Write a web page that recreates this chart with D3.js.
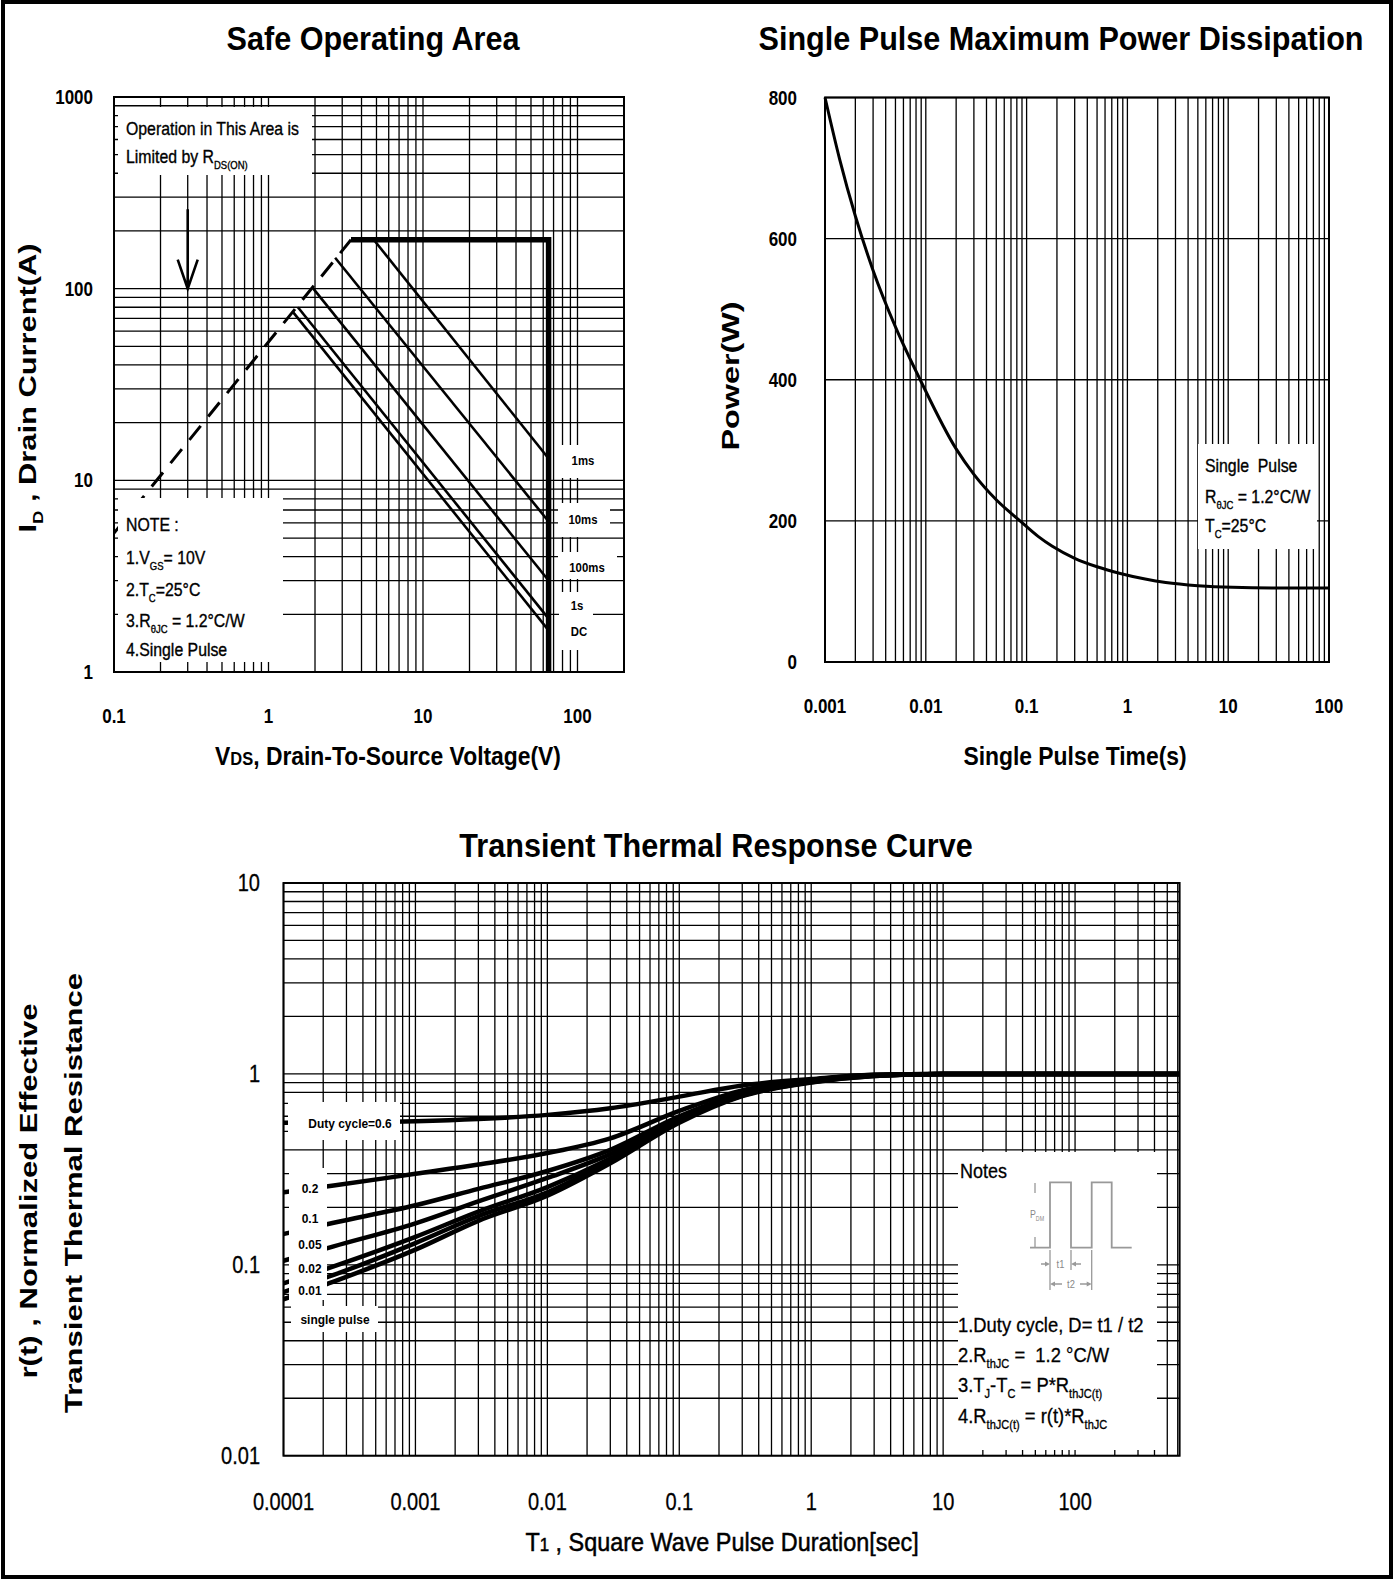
<!DOCTYPE html>
<html>
<head>
<meta charset="utf-8">
<script src="https://cdn.jsdelivr.net/npm/d3@7"></script>
<style>
  body { margin: 0; background: #fff; }
</style>
</head>
<body>
<svg id="chart" width="1394" height="1580"></svg>
<script>
// ---- Safe Operating Area data ----
var soaXTicks = [0.1, 1, 10, 100];
var soaYTicks = [1, 10, 100, 1000];
var soaXTickLabels = ['0.1', '1', '10', '100'];
var soaYTickLabels = ['1', '10', '100', '1000'];
var rdsLimitV = [0.1, 3.42];          // R_DS(ON) limit (dashed)
var rdsLimitI = [5.3, 180];
var boundV = [3.42, 65, 65];          // current limit + voltage limit (thick)
var boundI = [180, 180, 1];
var pulseNames = ['1ms', '10ms', '100ms', '1s', 'DC'];
var pulseStartV = [4.8, 2.7, 1.95, 1.55, 1.45];
var pulseStartI = [180, 145, 100, 80, 75];
var pulseEndV = [65, 65, 65, 65, 65];
var pulseEndI = [13, 6.1, 3.0, 1.9, 1.65];
var arrowV = 0.3;
var arrowI = [260, 100];

// ---- Single pulse power data ----
var spXTicks = [0.001, 0.01, 0.1, 1, 10, 100];
var spXTickLabels = ['0.001', '0.01', '0.1', '1', '10', '100'];
var spYTicks = [0, 200, 400, 600, 800];
var spTime = [0.001, 0.0014, 0.002, 0.003, 0.005, 0.0088, 0.02, 0.03, 0.05, 0.086, 0.13, 0.18, 0.3, 0.5, 0.85, 1.5, 2.4, 5, 11, 30, 100];
var spPower = [800, 712, 632, 555, 475, 400, 302, 266, 230, 200, 178, 164, 147, 135, 125.5, 117.6, 112.7, 108.2, 105.8, 105, 105];

// ---- Transient thermal response data ----
var ttXTicks = [0.0001, 0.001, 0.01, 0.1, 1, 10, 100];
var ttXTickLabels = ['0.0001', '0.001', '0.01', '0.1', '1', '10', '100'];
var ttYTicks = [0.01, 0.1, 1, 10];
var ttYTickLabels = ['0.01', '0.1', '1', '10'];
var ttTime = [0.0001, 0.00024, 0.001, 0.003, 0.01, 0.03, 0.1, 0.3, 1, 3, 10, 100, 620];
var ttNames = ['Duty cycle=0.6', '0.2', '0.1', '0.05', '0.02', '0.01', 'single pulse'];
var ttD06 = [0.555, 0.558, 0.565, 0.58, 0.61, 0.66, 0.76, 0.87, 0.94, 0.99, 1.0, 1.0, 1.0];
var ttD02 = [0.24, 0.26, 0.30, 0.335, 0.385, 0.46, 0.64, 0.82, 0.93, 0.99, 1.0, 1.0, 1.0];
var ttD01 = [0.145, 0.166, 0.205, 0.25, 0.31, 0.40, 0.60, 0.79, 0.92, 0.985, 1.0, 1.0, 1.0];
var ttD005 = [0.105, 0.125, 0.165, 0.215, 0.285, 0.38, 0.585, 0.78, 0.915, 0.98, 1.0, 1.0, 1.0];
var ttD002 = [0.08, 0.098, 0.14, 0.19, 0.255, 0.36, 0.57, 0.775, 0.91, 0.98, 1.0, 1.0, 1.0];
var ttD001 = [0.072, 0.0885, 0.13, 0.18, 0.24, 0.35, 0.565, 0.77, 0.905, 0.975, 1.0, 1.0, 1.0];
var ttSingle = [0.066, 0.0817, 0.12, 0.17, 0.23, 0.34, 0.555, 0.765, 0.9, 0.975, 1.0, 1.0, 1.0];
var ttSeries = [ttD06, ttD02, ttD01, ttD005, ttD002, ttD001, ttSingle];

var FONT = "'Liberation Sans', Arial, sans-serif";
var svg = d3.select('#chart');

svg.append('rect').attr('width', 1394).attr('height', 1580).attr('fill', '#fff');
svg.append('rect')
    .attr('x', 3).attr('y', 2).attr('width', 1388).attr('height', 1575)
    .attr('fill', 'none').attr('stroke', '#000').attr('stroke-width', 4);

// text helper: parts are strings or [text, 'sub'|'sm']
function addText(parent, x, y, parts, o) {
    var size = o.size;
    var tf = 'translate(' + x + ',' + y + ')';
    if (o.rotate) tf += ' rotate(' + o.rotate + ')';
    if (o.sx && o.sx !== 1) tf += ' scale(' + o.sx + ',1)';
    tf += ' translate(0,' + (size * 0.35).toFixed(2) + ')';
    var t = parent.append('text')
        .attr('transform', tf)
        .attr('font-family', FONT)
        .attr('font-size', size)
        .attr('font-weight', o.bold ? 'bold' : 'normal')
        .attr('text-anchor', o.anchor || 'start')
        .attr('fill', o.fill || '#000');
    if (o.stroke) t.attr('stroke', o.fill || '#000').attr('stroke-width', o.stroke);
    if (o.len) t.attr('textLength', o.len).attr('lengthAdjust', o.adjust || 'spacingAndGlyphs');
    var shift = 0;
    (typeof parts === 'string' ? [parts] : parts).forEach(function (p) {
        var s = typeof p === 'string' ? p : p[0];
        var kind = typeof p === 'string' ? null : p[1];
        var d = kind === 'sub' ? size * 0.3 : 0;
        var ts = t.append('tspan').text(s);
        if (d - shift !== 0) ts.attr('dy', d - shift);
        if (kind) ts.attr('font-size', size * (kind === 'sub' ? 0.6 : 0.72));
        shift = d;
    });
    return t;
}

function whiteBox(parent, x0, y0, x1, y1) {
    parent.append('rect')
        .attr('x', x0).attr('y', y0).attr('width', x1 - x0).attr('height', y1 - y0)
        .attr('fill', '#fff');
}

function drawGrid(parent, xs, ys, xVals, yVals) {
    var g = parent.append('g').attr('stroke', '#000').attr('stroke-width', 1.3);
    var xr = xs.range(), yr = ys.range();
    g.selectAll('line.v').data(xVals).join('line').attr('class', 'v')
        .attr('x1', function (d) { return xs(d); }).attr('x2', function (d) { return xs(d); })
        .attr('y1', yr[0]).attr('y2', yr[1]);
    g.selectAll('line.h').data(yVals).join('line').attr('class', 'h')
        .attr('x1', xr[0]).attr('x2', xr[1])
        .attr('y1', function (d) { return ys(d); }).attr('y2', function (d) { return ys(d); });
}

function drawFrame(parent, xs, ys) {
    var xr = xs.range(), yr = ys.range();
    parent.append('rect')
        .attr('x', xr[0]).attr('y', yr[1])
        .attr('width', xr[1] - xr[0]).attr('height', yr[0] - yr[1])
        .attr('fill', 'none').attr('stroke', '#000').attr('stroke-width', 2);
}

var titleStyle = { size: 34, bold: true, sx: 0.9, anchor: 'middle' };
var annot = { size: 18, sx: 0.88, stroke: 0.35 };
var tickStyle = { size: 20, bold: true, sx: 0.85 };

// ================= Safe Operating Area =================
var soa = svg.append('g');
var soaX = d3.scaleLog().domain([0.1, 200]).range([114, 624]);
var soaY = d3.scaleLog().domain([1, 1000]).range([672, 97]);
drawGrid(soa, soaX, soaY, soaX.ticks(), soaY.ticks());

var soaLine = d3.line().x(function (d) { return soaX(d[0]); }).y(function (d) { return soaY(d[1]); });

soa.append('path')
    .attr('d', soaLine(d3.zip(rdsLimitV, rdsLimitI)))
    .attr('fill', 'none').attr('stroke', '#000').attr('stroke-width', 3)
    .attr('stroke-dasharray', '18,12');

soa.selectAll('path.pulse').data(pulseNames).join('path').attr('class', 'pulse')
    .attr('d', function (d, i) {
        return soaLine([[pulseStartV[i], pulseStartI[i]], [pulseEndV[i], pulseEndI[i]]]);
    })
    .attr('fill', 'none').attr('stroke', '#000').attr('stroke-width', 2.6);

soa.append('path')
    .attr('d', soaLine(d3.zip(boundV, boundI)))
    .attr('fill', 'none').attr('stroke', '#000').attr('stroke-width', 5.5)
    .attr('stroke-linejoin', 'miter');

// arrow pointing at the R_DS(ON) limit
var ax = soaX(arrowV), ayTop = soaY(arrowI[0]), ayTip = soaY(arrowI[1]);
soa.append('path')
    .attr('d', 'M' + ax + ',' + ayTop + 'L' + ax + ',' + ayTip +
        'M' + (ax - 10) + ',' + (ayTip - 29) + 'L' + ax + ',' + ayTip + 'L' + (ax + 10) + ',' + (ayTip - 29))
    .attr('fill', 'none').attr('stroke', '#000').attr('stroke-width', 2.6);

// annotation boxes
whiteBox(soa, 118, 107, 312, 175);
whiteBox(soa, 118, 498, 283, 662);
whiteBox(soa, 556, 445, 623, 478);
whiteBox(soa, 558, 503, 610, 537);
whiteBox(soa, 558, 552, 617, 579);
whiteBox(soa, 559, 592, 593, 650);

addText(soa, 126, 129, 'Operation in This Area is', annot);
addText(soa, 126, 157, ['Limited by R', ['DS(ON)', 'sub']], annot);
addText(soa, 126, 525, 'NOTE :', annot);
addText(soa, 126, 558, ['1.V', ['GS', 'sub'], '= 10V'], annot);
addText(soa, 126, 590, ['2.T', ['C', 'sub'], '=25°C'], annot);
addText(soa, 126, 621, ['3.R', ['θJC', 'sub'], ' = 1.2°C/W'], annot);
addText(soa, 126, 650, '4.Single Pulse', annot);

var pulseLabelPos = [[583, 461], [583, 520], [587, 568], [577, 606], [579, 632]];
pulseNames.forEach(function (n, i) {
    addText(soa, pulseLabelPos[i][0], pulseLabelPos[i][1], n, { size: 12, bold: true, sx: 0.95, anchor: 'middle' });
});

drawFrame(soa, soaX, soaY);

soaYTicks.forEach(function (v, i) {
    addText(soa, 93, soaY(v), soaYTickLabels[i], Object.assign({ anchor: 'end' }, tickStyle));
});
soaXTicks.forEach(function (v, i) {
    addText(soa, soaX(v), 716, soaXTickLabels[i], Object.assign({ anchor: 'middle' }, tickStyle));
});
addText(soa, 373, 38, 'Safe Operating Area', titleStyle);
addText(soa, 388, 756, ['V', ['DS', 'sm'], ', Drain-To-Source Voltage(V)'], { size: 26, bold: true, anchor: 'middle', sx: 0.88 });
addText(soa, 28, 388, ['I', ['D', 'sub'], ' , Drain Current(A)'], { size: 23, bold: true, anchor: 'middle', rotate: -90, len: 289 });

// ================= Single Pulse Maximum Power =================
var sp = svg.append('g');
var spX = d3.scaleLog().domain([0.001, 100]).range([825, 1329]);
var spY = d3.scaleLinear().domain([0, 800]).range([662, 97.5]);
drawGrid(sp, spX, spY, spX.ticks(), spYTicks);
whiteBox(sp, 1198, 444, 1317, 549);

sp.append('path')
    .attr('d', d3.line()
        .x(function (d) { return spX(d[0]); })
        .y(function (d) { return spY(d[1]); })
        .curve(d3.curveMonotoneX)(d3.zip(spTime, spPower)))
    .attr('fill', 'none').attr('stroke', '#000').attr('stroke-width', 3);

addText(sp, 1205, 466, 'Single\u00A0\u00A0Pulse', annot);
addText(sp, 1205, 497, ['R', ['θJC', 'sub'], ' = 1.2°C/W'], annot);
addText(sp, 1205, 526, ['T', ['C', 'sub'], '=25°C'], annot);

drawFrame(sp, spX, spY);
spYTicks.forEach(function (v) {
    addText(sp, 797, spY(v), String(v), Object.assign({ anchor: 'end' }, tickStyle));
});
spXTicks.forEach(function (v, i) {
    addText(sp, spX(v), 706, spXTickLabels[i], Object.assign({ anchor: 'middle' }, tickStyle));
});
addText(sp, 1061, 38, 'Single Pulse Maximum Power Dissipation', titleStyle);
addText(sp, 1075, 756, 'Single Pulse Time(s)', { size: 26, bold: true, anchor: 'middle', sx: 0.88 });
addText(sp, 731, 376, 'Power(W)', { size: 24, bold: true, anchor: 'middle', rotate: -90, len: 149 });

// ================= Transient Thermal Response =================
var tt = svg.append('g');
var ttX = d3.scaleLog().domain([0.0001, 620]).range([283.5, 1179.6]);
var ttY = d3.scaleLog().domain([0.01, 10]).range([1455.7, 883]);
drawGrid(tt, ttX, ttY, ttX.ticks(), ttY.ticks());

var ttLine = d3.line()
    .x(function (d) { return ttX(d[0]); })
    .y(function (d) { return ttY(d[1]); })
    .curve(d3.curveMonotoneX);
tt.selectAll('path.duty').data(ttSeries).join('path').attr('class', 'duty')
    .attr('d', function (s) { return ttLine(d3.zip(ttTime, s)); })
    .attr('fill', 'none').attr('stroke', '#000').attr('stroke-width', 4.5);

whiteBox(tt, 288, 1102, 400, 1140);
whiteBox(tt, 289, 1168, 327, 1300);
whiteBox(tt, 291, 1306, 378, 1332);
whiteBox(tt, 958, 1152, 1157, 1450);

var ttLabelPos = [[350, 1123], [310, 1188], [310, 1218], [310, 1244], [310, 1268], [310, 1290], [335, 1319]];
ttNames.forEach(function (n, i) {
    addText(tt, ttLabelPos[i][0], ttLabelPos[i][1], n, { size: 13, bold: true, sx: 0.92, anchor: 'middle' });
});

// notes
var noteStyle = { size: 20, sx: 0.92, stroke: 0.3 };
addText(tt, 960, 1171, 'Notes', { size: 20, sx: 0.9, stroke: 0.3 });
addText(tt, 958, 1325, '1.Duty cycle, D= t1 / t2', noteStyle);
addText(tt, 958, 1355, ['2.R', ['thJC', 'sub'], ' =\u00A0 1.2 °C/W'], noteStyle);
addText(tt, 958, 1385, ['3.T', ['J', 'sub'], '-T', ['C', 'sub'], ' = P*R', ['thJC(t)', 'sub']], noteStyle);
addText(tt, 958, 1416, ['4.R', ['thJC(t)', 'sub'], ' = r(t)*R', ['thJC', 'sub']], noteStyle);

// pulse sketch inside the notes
var inset = tt.append('g').attr('stroke', '#999').attr('fill', 'none').attr('stroke-width', 1.3);
var wave = [[1030, 1247.7], [1050, 1247.7], [1050, 1182.3], [1071, 1182.3], [1071, 1247.7],
    [1091.7, 1247.7], [1091.7, 1182.3], [1111.7, 1182.3], [1111.7, 1247.7], [1131.7, 1247.7]];
inset.append('path').attr('d', d3.line()(wave)).attr('stroke-width', 1.8);
inset.append('path').attr('d',
    'M1035,1183L1035,1193M1035,1237L1035,1247' +
    'M1050,1250L1050,1290M1071,1250L1071,1270M1091.7,1250L1091.7,1290' +
    'M1041,1264L1047,1264M1074,1264L1081,1264' +
    'M1053,1284L1062,1284M1080,1284L1089,1284');
inset.append('path').attr('fill', '#999').attr('stroke', 'none').attr('d',
    'M1050,1264L1045,1261.5L1045,1266.5Z M1071,1264L1076,1261.5L1076,1266.5Z' +
    'M1050,1284L1055,1281.5L1055,1286.5Z M1091.7,1284L1086.7,1281.5L1086.7,1286.5Z');
addText(tt, 1060.5, 1264, 't1', { size: 11, sx: 0.85, anchor: 'middle', fill: '#888' });
addText(tt, 1071, 1284, 't2', { size: 11, sx: 0.85, anchor: 'middle', fill: '#888' });
addText(tt, 1037, 1214, ['P', ['DM', 'sub']], { size: 11, sx: 0.8, anchor: 'middle', fill: '#888' });

drawFrame(tt, ttX, ttY);
var ttTickStyle = { size: 23, sx: 0.87, stroke: 0.3 };
ttYTicks.forEach(function (v, i) {
    addText(tt, 260, ttY(v), ttYTickLabels[i], Object.assign({ anchor: 'end' }, ttTickStyle));
});
ttXTicks.forEach(function (v, i) {
    addText(tt, ttX(v), 1502, ttXTickLabels[i], Object.assign({ anchor: 'middle' }, ttTickStyle));
});
addText(tt, 716, 845, 'Transient Thermal Response Curve', titleStyle);
addText(tt, 722, 1542, ['T', ['1', 'sm'], ' , Square Wave Pulse Duration[sec]'], { size: 26, anchor: 'middle', sx: 0.9, stroke: 0.5 });
addText(tt, 29, 1191, 'r(t) , Normalized Effective', { size: 24, bold: true, anchor: 'middle', rotate: -90, len: 375 });
addText(tt, 74, 1193, 'Transient Thermal Resistance', { size: 24, bold: true, anchor: 'middle', rotate: -90, len: 440 });
</script>
</body>
</html>
